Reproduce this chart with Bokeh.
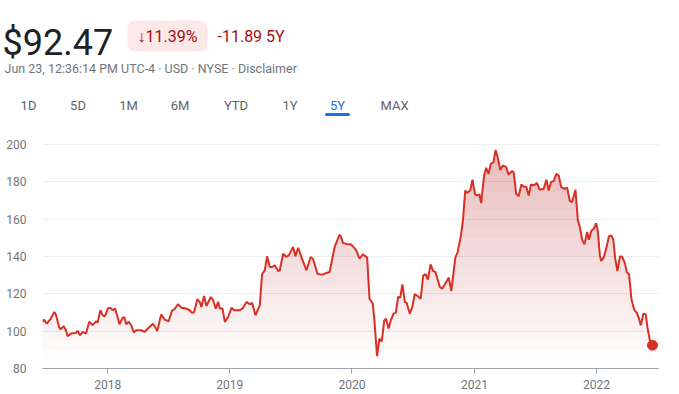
import numpy as np
import pandas as pd
from bokeh.plotting import figure
from bokeh.layouts import column
from bokeh.models import Range1d, FixedTicker, DatetimeTickFormatter
from bokeh.core.properties import value
from bokeh.embed import file_html
from bokeh.resources import INLINE

# ---------------- data ----------------
price_text = "$92.47"
change_pct = "\u219311.39%"
change_abs = "-11.89 5Y"
subtitle = "Jun 23, 12:36:14 PM UTC-4 \u00b7 USD \u00b7 NYSE \u00b7 Disclaimer"
tabs = ["1D", "5D", "1M", "6M", "YTD", "1Y", "5Y", "MAX"]
active_tab = "5Y"

# dates as decimal years
years_dec = [
    2017.466, 2017.479, 2017.501, 2017.534, 2017.562, 2017.575, 2017.603, 2017.616,
    2017.638, 2017.658, 2017.671, 2017.699, 2017.740, 2017.753, 2017.773, 2017.795,
    2017.822, 2017.849, 2017.877, 2017.904, 2017.918, 2017.940, 2017.959, 2017.978,
    2018.000, 2018.022, 2018.041, 2018.060, 2018.077, 2018.096, 2018.123, 2018.137,
    2018.151, 2018.173, 2018.192, 2018.214, 2018.233, 2018.274, 2018.301, 2018.329,
    2018.370, 2018.384, 2018.405, 2018.438, 2018.466, 2018.499, 2018.526, 2018.548,
    2018.575, 2018.603, 2018.644, 2018.671, 2018.690, 2018.707, 2018.734, 2018.753,
    2018.767, 2018.789, 2018.808, 2018.844, 2018.863, 2018.885, 2018.904, 2018.918,
    2018.940, 2018.959, 2018.986,
    2019.014, 2019.035, 2019.082, 2019.109, 2019.136, 2019.163, 2019.183, 2019.210,
    2019.245, 2019.264, 2019.286, 2019.305, 2019.327, 2019.346, 2019.368, 2019.395,
    2019.409, 2019.436, 2019.463, 2019.482, 2019.518, 2019.537, 2019.559, 2019.586,
    2019.627, 2019.662, 2019.681, 2019.717, 2019.749, 2019.771, 2019.790, 2019.817,
    2019.858, 2019.899, 2019.913, 2019.926, 2019.946, 2019.967, 2019.989,
    2020.008, 2020.035, 2020.062, 2020.089, 2020.124, 2020.143, 2020.170, 2020.183,
    2020.205, 2020.224, 2020.243, 2020.264, 2020.278, 2020.299, 2020.318, 2020.340,
    2020.358, 2020.377, 2020.394, 2020.412, 2020.431, 2020.447, 2020.472, 2020.493,
    2020.512, 2020.539, 2020.561, 2020.582, 2020.601, 2020.620, 2020.642, 2020.663,
    2020.682, 2020.717, 2020.736, 2020.755, 2020.790, 2020.811, 2020.844, 2020.863,
    2020.890, 2020.906, 2020.925, 2020.938, 2020.965, 2020.984,
    2021.005, 2021.025, 2021.041, 2021.055, 2021.079, 2021.096, 2021.115, 2021.134,
    2021.156, 2021.173, 2021.189, 2021.211, 2021.233, 2021.260, 2021.279, 2021.307,
    2021.321, 2021.342, 2021.362, 2021.384, 2021.403, 2021.425, 2021.444, 2021.463,
    2021.485, 2021.512, 2021.534, 2021.567, 2021.589, 2021.608, 2021.627, 2021.649,
    2021.671, 2021.690, 2021.710, 2021.737, 2021.759, 2021.781, 2021.800, 2021.827,
    2021.847, 2021.863, 2021.882, 2021.901, 2021.923, 2021.937, 2021.956, 2021.978,
    2021.997,
    2022.011, 2022.027, 2022.038, 2022.060, 2022.082, 2022.101, 2022.121, 2022.137,
    2022.151, 2022.170, 2022.192, 2022.211, 2022.233, 2022.247, 2022.266, 2022.285,
    2022.307, 2022.329, 2022.348, 2022.362, 2022.384, 2022.403, 2022.416, 2022.436,
    2022.458,
]

prices = [
    105, 106.2, 104, 106.7, 110.3, 109, 102, 101,
    102.7, 100.5, 97.3, 98.7, 99, 100.2, 97.8, 99.6,
    98.7, 105, 103.2, 105.3, 104.6, 111.2, 108.5, 108,
    112.1, 112.5, 111.2, 112.1, 108.5, 103.7, 107.3, 107.3,
    103.7, 105, 103.2, 99.3, 100.5, 100.5, 99.6, 101.4,
    104, 102.7, 100, 109, 106.2, 105.3, 110.9, 111.9,
    114.4, 112.6, 112.1, 111.2, 109.8, 110.1, 117.1, 115.7,
    113, 118.9, 113.5, 118.3, 116.6, 112.1, 115.7, 112.1,
    112.1, 105, 107.6,
    112.6, 111.2, 111.2, 112.5, 115.7, 114.4, 115.1, 108.5,
    113.9, 130.5, 132.6, 140.1, 134.4, 134.4, 135.3, 132.2,
    132.6, 141.5, 139.7, 140.6, 145.1, 140.1, 144.7, 139.7,
    132.6, 139.7, 138.8, 130.8, 130.3, 130.5, 131.2, 131.7,
    145.1, 151.7, 150.1, 147.2, 146.9, 146.5, 146.5,
    145.4, 143.3, 138.8, 141.2, 139.4, 117.4, 114.8, 105.9,
    86.6, 96, 94.4, 105.9, 106.7, 101.4, 105.9, 109.4,
    109.8, 118.3, 118, 125.1, 115.7, 115.1, 109.4, 113,
    119.8, 118.7, 117.4, 129.9, 130.5, 127.6, 135.8, 132.2,
    131.7, 123.7, 122.8, 124.6, 128.7, 121.5, 139.4, 142.4,
    151.3, 159.3, 175.4, 174, 175.4, 181.1,
    173.3, 172.7, 173.3, 168.6, 183.4, 187.5, 184.3, 189.7,
    190.6, 197.1, 193.6, 186.4, 188.8, 187.9, 183.9, 185.7,
    185.2, 173.6, 172.2, 178.6, 177.5, 177.2, 172.7, 178.6,
    178.1, 179.3, 175.8, 176.3, 181.1, 175.4, 179.9, 180.4,
    184.3, 183.4, 177.2, 176.3, 176.8, 169.7, 169.2, 175.8,
    159.3, 155.8, 149, 146.5, 153.1, 149, 153.6, 154.9,
    157.9,
    153.1, 140.6, 137.6, 139.7, 145.1, 150.8, 151.3, 149,
    139.7, 132.2, 140.1, 139.7, 136.2, 131.7, 130.5, 117.4,
    111.6, 109.8, 106.7, 103.2, 109.4, 109, 102.3, 95.2,
    92.47,
]

y_ticks = [80, 100, 120, 140, 160, 180, 200]
x_tick_years = [2018, 2019, 2020, 2021, 2022]

# ---------------- helpers ----------------
def dec_to_ts(d):
    y = int(d)
    start = pd.Timestamp(year=y, month=1, day=1)
    ndays = pd.Timestamp(year=y, month=12, day=31).dayofyear
    return start + pd.Timedelta(days=(d - y) * ndays)

dates = [dec_to_ts(d) for d in years_dec]
pr = np.array(prices, dtype=float)

RED = "#d93025"
GRAY_TXT = "#70757a"
FONT = value("Roboto")

W = 678
HEADER_H = 134
CHART_H = 259

# ---------------- header ----------------
h = figure(width=W, height=HEADER_H, output_backend="svg", toolbar_location=None,
           x_range=Range1d(0, W), y_range=Range1d(HEADER_H, 0),
           x_axis_location=None, y_axis_location=None,
           min_border=0, outline_line_color=None)
h.grid.visible = False
h.frame_align = False

h.text(x=[2], y=[42], text=[price_text], text_font=FONT, text_font_size="36px",
       text_color="#202124", text_baseline="alphabetic", text_align="left")

h.quad(left=[127], right=[207], top=[20], bottom=[51], fill_color="#fce8e6",
       line_color=None, border_radius=8)
h.text(x=[137], y=[36], text=[change_pct], text_font=FONT, text_font_size="16px",
       text_color="#a50e0e", text_baseline="alphabetic", text_align="left")
h.text(x=[217], y=[36], text=[change_abs], text_font=FONT, text_font_size="16px",
       text_color="#a50e0e", text_baseline="alphabetic", text_align="left")

h.text(x=[4], y=[68], text=[subtitle], text_font=FONT, text_font_size="12.5px",
       text_color=GRAY_TXT, text_baseline="alphabetic", text_align="left")

tab_x = [28, 77.5, 128, 179.5, 235.5, 289.5, 337, 394]
tab_colors = ["#1a73e8" if t == active_tab else "#5f6368" for t in tabs]
h.text(x=tab_x, y=[105] * len(tabs), text=tabs, text_font=FONT, text_font_size="13px",
       text_color=tab_colors, text_baseline="alphabetic", text_align="center")
ai = tabs.index(active_tab)
h.segment(x0=[tab_x[ai] - 11], x1=[tab_x[ai] + 11], y0=[114], y1=[114],
          line_color="#1a73e8", line_width=3, line_cap="round")

# ---------------- chart ----------------
# small right padding so the end marker is not clipped by the frame
FRAME_L, DATA_R, FRAME_R = 42, 652, 658
span = dates[-1] - dates[0]
x_end = dates[-1] + span * ((FRAME_R - DATA_R) / (DATA_R - FRAME_L))

p = figure(width=W, height=CHART_H, output_backend="svg", toolbar_location=None,
           x_axis_type="datetime",
           x_range=Range1d(dates[0], x_end), y_range=Range1d(80, 205.36),
           min_border_left=FRAME_L, min_border_right=W - FRAME_R, min_border_top=0,
           min_border_bottom=25, outline_line_color=None)
p.frame_align = False

# gradient-like fill: stacked translucent layers (darker toward the top)
for lvl in range(85, 201, 5):
    p.varea(x=dates, y1=np.minimum(pr, lvl), y2=pr, fill_color=RED, fill_alpha=0.016)

p.line(x=dates, y=pr, line_color=RED, line_width=2)
p.scatter(x=[dates[-1]], y=[pr[-1]], size=10, fill_color=RED, line_color=RED)

p.xgrid.grid_line_color = None
p.ygrid.grid_line_color = "#eeeeee"

p.yaxis.ticker = FixedTicker(ticks=y_ticks)
p.yaxis.axis_line_color = None
p.yaxis.major_tick_line_color = None
p.yaxis.minor_tick_line_color = None
p.yaxis.major_label_standoff = 10
p.yaxis.major_label_text_font = "Roboto"
p.yaxis.major_label_text_font_size = "12px"
p.yaxis.major_label_text_color = GRAY_TXT

xt = [pd.Timestamp(year=y, month=1, day=1).value / 1e6 for y in x_tick_years]
p.xaxis.ticker = FixedTicker(ticks=xt)
p.xaxis.formatter = DatetimeTickFormatter(years="%Y", months="%Y", days="%Y",
                                          hours="%Y", minutes="%Y", seconds="%Y",
                                          milliseconds="%Y", microseconds="%Y")
p.xaxis.axis_line_color = "#9aa0a6"
p.xaxis.major_tick_line_color = "#9aa0a6"
p.xaxis.minor_tick_line_color = None
p.xaxis.major_tick_in = 0
p.xaxis.major_tick_out = 5
p.xaxis.major_label_standoff = 6
p.xaxis.major_label_text_font = "Roboto"
p.xaxis.major_label_text_font_size = "12px"
p.xaxis.major_label_text_color = GRAY_TXT

layout = column(h, p, spacing=0)
open("out.html", "w").write(file_html(layout, INLINE))
